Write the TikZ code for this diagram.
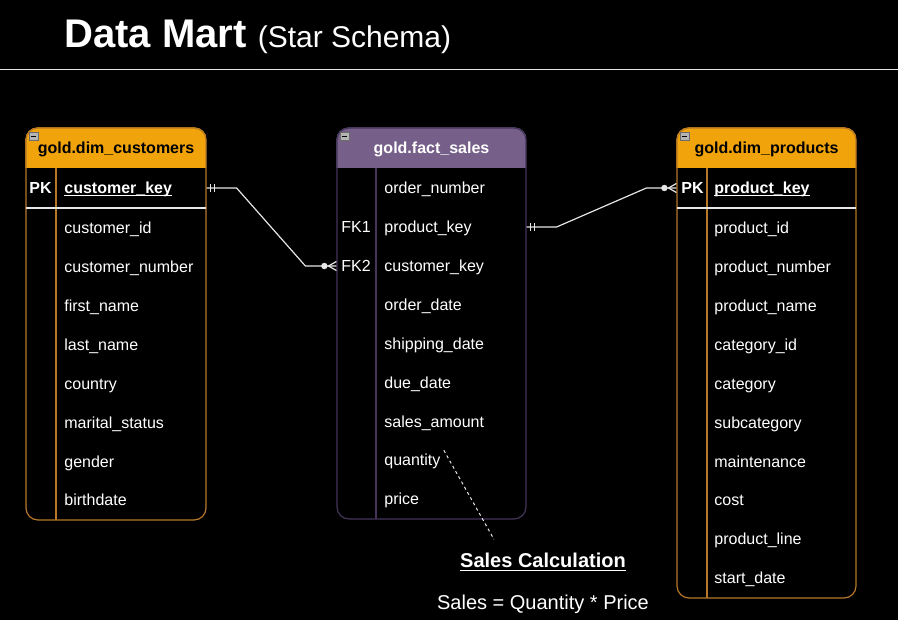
\documentclass[tikz,border=0pt]{standalone}
\usepackage{fontspec}
\setmainfont{Liberation Sans}
\usetikzlibrary{positioning,calc,backgrounds}
\definecolor{DimOrange}{HTML}{F0A30A}
\definecolor{DimEdge}{HTML}{B8782A}
\definecolor{FactPurple}{HTML}{76608A}
\definecolor{FactEdge}{HTML}{45345A}
\definecolor{LinkGrey}{HTML}{E6E6E6}
\definecolor{FoldGrey}{HTML}{B4B4B4}
\newcommand{\keyline}[2][1.4pt]{\setbox0\hbox{#2}\rlap{\rule[-#1]{\wd0}{0.6pt}}\box0}

\begin{document}
\begin{tikzpicture}[
    x=0.5pt, y=-0.5pt,
    tblframe/.style={
      draw=#1,
      line width=0.6pt,
      rounded corners=6pt,
      inner sep=0pt
    },
    hdr/.style={
      font=\bfseries\fontsize{8}{10}\selectfont,
      text height=5.3pt,
      text depth=0pt,
      inner sep=0pt
    },
    field/.style={
      anchor=west,
      text=white,
      font=\fontsize{8}{10}\selectfont,
      text height=5.3pt,
      text depth=0pt,
      inner sep=0pt
    },
    keyfld/.style={
      field,
      font=\bfseries\fontsize{8}{10}\selectfont
    },
    link/.style={
      draw=LinkGrey,
      line width=0.6pt
    },
    note/.style={
      text=white,
      font=\fontsize{10}{12}\selectfont,
      text height=7.2pt,
      text depth=0pt,
      inner sep=0pt
    },
    fold/.pic={
      \draw[FoldGrey!60!black, fill=FoldGrey, line width=0.4pt] (4,5) rectangle (13,13);
      \draw[black, line width=0.6pt] (6,9) -- (11,9);
    },
    mandone/.pic={
      \draw (4,-4) -- (4,4);
      \draw (8,-4) -- (8,4);
    },
    zeromany/.pic={
      \fill (-12,0) circle[radius=1.6pt];
      \draw (-8,0) -- (0,-4.5);
      \draw (-8,0) -- (0,4.5);
    }
  ]

  \useasboundingbox (0,0) rectangle (898,620);

  % Title
  \node[anchor=base west, text=white, inner sep=0pt] (title) at (64,48)
    {\fontsize{20}{24}\selectfont\bfseries Data Mart \mdseries\fontsize{15}{18}\selectfont(Star Schema)};
  \draw[LinkGrey, line width=0.5pt] (0,70) -- (898,70);

  % Table frames
  \node[tblframe=DimEdge, minimum width=90pt, minimum height=196pt] (cust) at (116,324) {};
  \node[tblframe=FactEdge, minimum width=94.5pt, minimum height=195.5pt] (sales) at (431.5,323.5) {};
  \node[tblframe=DimEdge, minimum width=89.5pt, minimum height=235pt] (prod) at (766.5,363) {};

  % Headers
  \node[hdr, text=black] (cust-t) at (116,148) {gold.dim\_customers};
  \node[hdr, text=white] (sales-t) at (431.5,148) {gold.fact\_sales};
  \node[hdr, text=black] (prod-t) at (766.5,148) {gold.dim\_products};
  \pic at (cust.north west) {fold};
  \pic at (sales.north west) {fold};
  \pic at (prod.north west) {fold};

  % Dividers
  \draw[DimEdge, line width=0.6pt] (56,168) -- (56,520);
  \draw[FactEdge, line width=0.6pt] (376,168) -- (376,519);
  \draw[DimEdge, line width=0.6pt] (707,168) -- (707,598);
  \draw[LinkGrey, line width=0.6pt] (26,208) -- (206,208);
  \draw[LinkGrey, line width=0.6pt] (677,208) -- (856,208);

  % gold.dim_customers
  \node[keyfld] (c-pk) at (29,188) {PK};
  \node[keyfld] (c-key) at (64,188) {\keyline{customer\_key}};
  \node[field] (c-id) at (64,228) {customer\_id};
  \node[field] (c-num) at (64,267) {customer\_number};
  \node[field] (c-first) at (64,306) {first\_name};
  \node[field] (c-last) at (64,345) {last\_name};
  \node[field] (c-country) at (64,384) {country};
  \node[field] (c-marital) at (64,423) {marital\_status};
  \node[field] (c-gender) at (64,462) {gender};
  \node[field] (c-birth) at (64,500) {birthdate};

  % gold.fact_sales
  \node[field] (s-order) at (384,188) {order\_number};
  \node[field] (s-fk1) at (341,227) {FK1};
  \node[field] (s-prod) at (384,227) {product\_key};
  \node[field] (s-fk2) at (341,266) {FK2};
  \node[field] (s-cust) at (384,266) {customer\_key};
  \node[field] (s-odate) at (384,305) {order\_date};
  \node[field] (s-sdate) at (384,344) {shipping\_date};
  \node[field] (s-ddate) at (384,383) {due\_date};
  \node[field] (s-amt) at (384,422) {sales\_amount};
  \node[field] (s-qty) at (384,460) {quantity};
  \node[field] (s-price) at (384,499) {price};

  % gold.dim_products
  \node[keyfld] (p-pk) at (681,188) {PK};
  \node[keyfld] (p-key) at (714,188) {\keyline{product\_key}};
  \node[field] (p-id) at (714,228) {product\_id};
  \node[field] (p-num) at (714,267) {product\_number};
  \node[field] (p-name) at (714,306) {product\_name};
  \node[field] (p-catid) at (714,345) {category\_id};
  \node[field] (p-cat) at (714,384) {category};
  \node[field] (p-sub) at (714,423) {subcategory};
  \node[field] (p-maint) at (714,462) {maintenance};
  \node[field] (p-cost) at (714,500) {cost};
  \node[field] (p-line) at (714,539) {product\_line};
  \node[field] (p-start) at (714,578) {start\_date};

  % Relationships
  \draw[link] (cust.east |- c-key.west) -- ++(30,0)
    -- ($(sales.west |- s-fk2.west)+(-31,0)$) -- (sales.west |- s-fk2.west);
  \pic[link, fill=LinkGrey] at (cust.east |- c-key.west) {mandone};
  \pic[link, fill=LinkGrey] at (sales.west |- s-fk2.west) {zeromany};

  \draw[link] (sales.east |- s-prod.west) -- ++(30,0)
    -- ($(prod.west |- p-key.west)+(-30,0)$) -- (prod.west |- p-key.west);
  \pic[link, fill=LinkGrey] at (sales.east |- s-prod.west) {mandone};
  \pic[link, fill=LinkGrey] at (prod.west |- p-key.west) {zeromany};

  % Sales note
  \node[note] (calc) at (543,560) {\bfseries\keyline[1.8pt]{Sales Calculation}};
  \node[note] (formula) at (543,602) {Sales = Quantity * Price};
  \draw[link, line width=0.5pt, dash pattern=on 1.5pt off 1.5pt]
    ($(s-qty.north east)+(3,-4)$) -- ($(calc.north)+(-49,-13)$);

  % Fills behind
  \begin{scope}[on background layer]
    \fill[black] (0,0) rectangle (898,620);
    \begin{scope}
      \clip (cust.north west) rectangle (206,168);
      \fill[DimOrange, rounded corners=6pt] (cust.north west) rectangle (cust.south east);
    \end{scope}
    \begin{scope}
      \clip (sales.north west) rectangle (526,168);
      \fill[FactPurple, rounded corners=6pt] (sales.north west) rectangle (sales.south east);
    \end{scope}
    \begin{scope}
      \clip (prod.north west) rectangle (856,168);
      \fill[DimOrange, rounded corners=6pt] (prod.north west) rectangle (prod.south east);
    \end{scope}
  \end{scope}

\end{tikzpicture}
\end{document}
